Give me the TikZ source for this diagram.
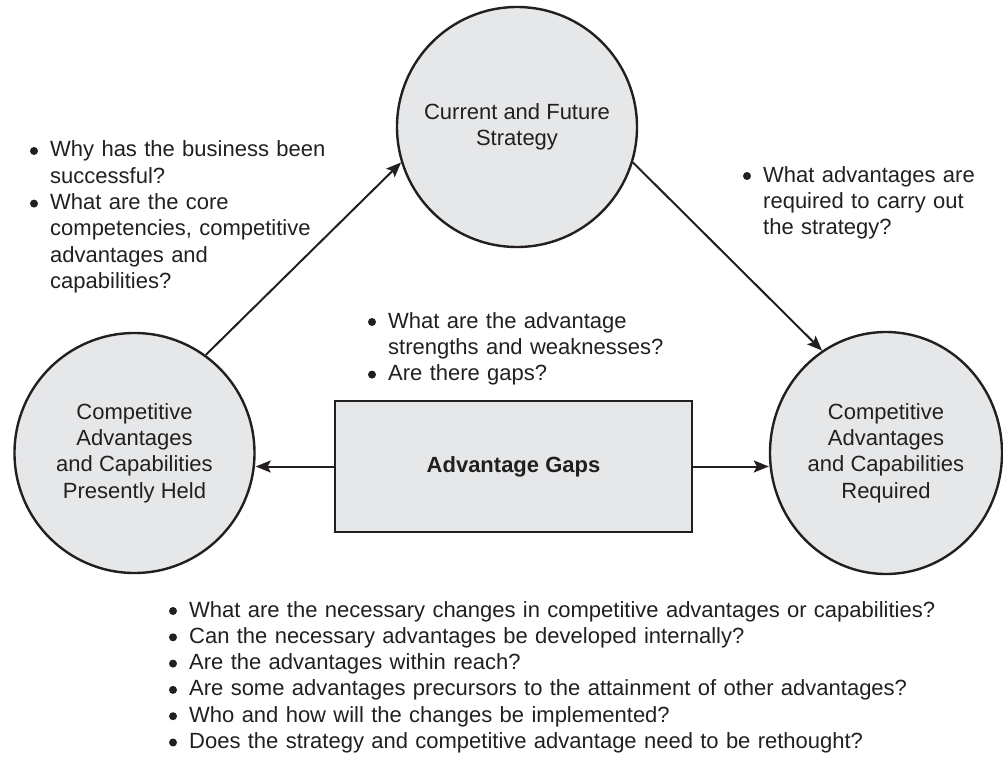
\documentclass[tikz,border=0pt]{standalone}
\usepackage{fontspec}
\setmainfont{Liberation Sans}
\usetikzlibrary{arrows.meta,shapes.geometric}
\definecolor{ink}{HTML}{231F20}
\definecolor{shade}{HTML}{E6E7E9}
\begin{document}
\begin{tikzpicture}[x=1pt,y=-1pt,
  every node/.style={text=ink,font=\fontsize{22}{26.3}\selectfont},
  bubble/.style={circle,draw=ink,fill=shade,line width=2.4pt,minimum size=240pt,inner sep=0pt,align=center},
  gapbox/.style={rectangle,draw=ink,fill=shade,line width=2.4pt,minimum width=357pt,minimum height=131pt,inner sep=0pt},
  notes/.style={anchor=base west,inner sep=0pt,text width=#1,align=left},
  link/.style={draw=ink,line width=2pt,-{Stealth[length=15pt,width=12pt,inset=3pt]}},
  bulletdot/.style={fill=ink}]
\useasboundingbox (0,0) rectangle (1003,757);

% the three strategy circles
\node[bubble] (strategy) at (517,127) {Current and Future\\Strategy};
\node[bubble] (held) at (134.5,453) {Competitive\\Advantages\\and Capabilities\\Presently Held};
\node[ellipse,draw=ink,fill=shade,line width=2.4pt,minimum width=232pt,minimum height=242pt,inner sep=0pt,align=center] (required) at (886,453) {Competitive\\Advantages\\and Capabilities\\Required};

% gap analysis box
\node[gapbox] (gaps) at (513.5,466.5) {\bfseries Advantage Gaps};

% connectors
\draw[link] (held.54.8) -- (strategy.197);
\draw[link] (strategy.-17) -- (required.122);
\draw[link] (gaps.west) -- (gaps.west -| held.east);
\draw[link] (gaps.east) -- (gaps.east -| required.west);

% question lists (text), line pitch 26.3
\node[notes=310pt] (qheld) at (50,157) {Why has the business been\\
successful?\\
What are the core\\
competencies, competitive\\
advantages and\\
capabilities?};

\node[notes=240pt] (qreq) at (763,182) {What advantages are\\
required to carry out\\
the strategy?};

\node[notes=300pt] (qgap) at (388,328) {What are the advantage\\
strengths and weaknesses?\\
Are there gaps?};

\node[notes=790pt] (qchange) at (189,617) {What are the necessary changes in competitive advantages or capabilities?\\
Can the necessary advantages be developed internally?\\
Are the advantages within reach?\\
Are some advantages precursors to the attainment of other advantages?\\
Who and how will the changes be implemented?\\
Does the strategy and competitive advantage need to be rethought?};

% list bullets, centred on the x-height of each item's first line
\foreach \k in {0,2} \fill[bulletdot] (34,151+26.3*\k) circle[radius=4pt];
\fill[bulletdot] (747,176) circle[radius=4pt];
\foreach \k in {0,2} \fill[bulletdot] (372,322+26.3*\k) circle[radius=4pt];
\foreach \k in {0,...,5} \fill[bulletdot] (173,611+26.3*\k) circle[radius=4pt];
\end{tikzpicture}
\end{document}
